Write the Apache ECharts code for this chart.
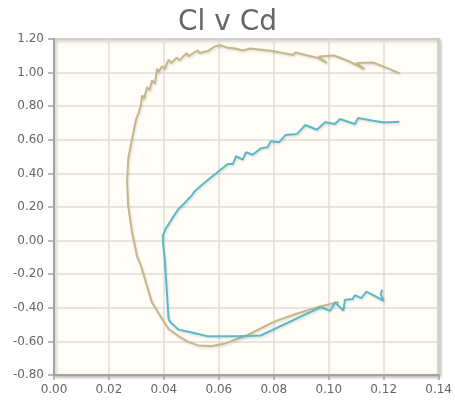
<!DOCTYPE html>
<html>
<head>
<meta charset="utf-8">
<script src="https://cdn.jsdelivr.net/npm/echarts@6/dist/echarts.min.js"></script>
<style>
html,body{margin:0;padding:0;background:#fff;}
#chart{width:455px;height:402px;}
</style>
</head>
<body>
<div id="chart"></div>
<script>
var titleText = "Cl v Cd";
var xTicks = [0, 0.02, 0.04, 0.06, 0.08, 0.10, 0.12, 0.14];
var yTicks = [-0.8, -0.6, -0.4, -0.2, 0, 0.2, 0.4, 0.6, 0.8, 1.0, 1.2];

var tanCd = [0.1037,0.0968,0.0885,0.0803,0.0705,0.0623,0.0572,0.0525,0.0489,0.0453,0.0417,0.0389,0.0356,0.0335,0.0317,0.0302,0.0284,0.0270,0.0266,0.0270,0.0284,0.0299,0.0307,0.0316,0.0321,0.0328,0.0339,0.0348,0.0357,0.0367,0.0375,0.0381,0.0393,0.0403,0.0417,0.0427,0.0447,0.0456,0.0483,0.0489,0.0523,0.0528,0.0561,0.0586,0.0604,0.0633,0.0659,0.0687,0.0713,0.0795,0.0871,0.0878,0.0961,0.0993,0.0963,0.1019,0.1072,0.1130,0.1101,0.1161,0.1209,0.1258];
var tanCl = [-0.366,-0.392,-0.434,-0.481,-0.562,-0.612,-0.627,-0.624,-0.603,-0.568,-0.526,-0.455,-0.366,-0.252,-0.151,-0.092,0.051,0.206,0.349,0.486,0.605,0.724,0.754,0.805,0.865,0.845,0.914,0.895,0.954,0.934,1.023,1.004,1.038,1.023,1.077,1.057,1.089,1.073,1.117,1.097,1.133,1.117,1.129,1.157,1.163,1.148,1.143,1.132,1.143,1.129,1.105,1.120,1.087,1.057,1.096,1.102,1.069,1.021,1.057,1.060,1.030,0.995];

var tealCd = [0.1195,0.1189,0.1200,0.1137,0.1119,0.1095,0.1087,0.1059,0.1053,0.1023,0.1005,0.0981,0.0969,0.0752,0.0669,0.0561,0.0525,0.0489,0.0453,0.0424,0.0417,0.0410,0.0403,0.0397,0.0396,0.0406,0.0429,0.0453,0.0478,0.0489,0.0500,0.0514,0.0550,0.0597,0.0633,0.0651,0.0663,0.0687,0.0699,0.0723,0.0753,0.0777,0.0789,0.0819,0.0843,0.0885,0.0915,0.0957,0.0987,0.1023,0.1041,0.1095,0.1107,0.1161,0.1197,0.1221,0.1257];
var tealCl = [-0.292,-0.318,-0.358,-0.304,-0.343,-0.324,-0.348,-0.352,-0.417,-0.367,-0.417,-0.403,-0.397,-0.565,-0.570,-0.570,-0.556,-0.542,-0.530,-0.486,-0.467,-0.288,-0.109,-0.020,0.029,0.069,0.129,0.188,0.228,0.248,0.266,0.297,0.347,0.410,0.456,0.456,0.502,0.482,0.526,0.511,0.549,0.555,0.591,0.585,0.629,0.635,0.688,0.660,0.704,0.694,0.724,0.694,0.730,0.714,0.704,0.704,0.708];

function zip(a, b) { return a.map(function (v, i) { return [v, b[i]]; }); }

var chart = echarts.init(document.getElementById('chart'), null, {renderer: 'canvas'});
var fontFam = 'DejaVu Sans';
var lineShadow = {shadowColor: 'rgba(0,0,0,0.12)', shadowBlur: 2, shadowOffsetX: 1, shadowOffsetY: 1.5};
chart.setOption({
  animation: false,
  backgroundColor: '#ffffff',
  title: {
    text: titleText, left: 'center', top: 4,
    textStyle: {fontFamily: fontFam, fontSize: 28, fontWeight: 'normal', color: '#666666'}
  },
  grid: {
    left: 54, right: 13, top: 39, bottom: 27,
    show: true, backgroundColor: '#fffdf6', borderColor: '#a3a3a3', borderWidth: 2,
    shadowColor: 'rgba(0,0,0,0.25)', shadowBlur: 3, shadowOffsetX: 1.5, shadowOffsetY: 1.5
  },
  xAxis: {
    type: 'value', min: xTicks[0], max: xTicks[xTicks.length - 1], interval: 0.02,
    axisLine: {show: true, onZero: false, lineStyle: {color: '#a3a3a3', width: 2}},
    axisTick: {show: true, length: 5, lineStyle: {color: '#a3a3a3', width: 1.5}},
    axisLabel: {color: '#666666', fontFamily: fontFam, fontSize: 12, margin: 9,
      formatter: function (v) { return v.toFixed(2); }},
    splitLine: {show: true, lineStyle: {color: '#dcdcdc', width: 1.5}}
  },
  yAxis: {
    type: 'value', min: yTicks[0], max: yTicks[yTicks.length - 1], interval: 0.2,
    axisLine: {show: true, onZero: false, lineStyle: {color: '#a3a3a3', width: 2}},
    axisTick: {show: true, length: 6, lineStyle: {color: '#a3a3a3', width: 1.5}},
    axisLabel: {color: '#666666', fontFamily: fontFam, fontSize: 12, margin: 10,
      formatter: function (v) { return v.toFixed(2); }},
    splitLine: {show: true, lineStyle: {color: '#dcdcdc', width: 1.5}}
  },
  series: [
    {type: 'line', name: 'A', data: zip(tealCd, tealCl), symbol: 'none',
      lineStyle: Object.assign({color: '#5cb8c8', width: 2}, lineShadow), z: 3},
    {type: 'line', name: 'B', data: zip(tanCd, tanCl), symbol: 'none',
      lineStyle: Object.assign({color: '#c6b68a', width: 2}, lineShadow), z: 2}
  ]
});
</script>
</body>
</html>
